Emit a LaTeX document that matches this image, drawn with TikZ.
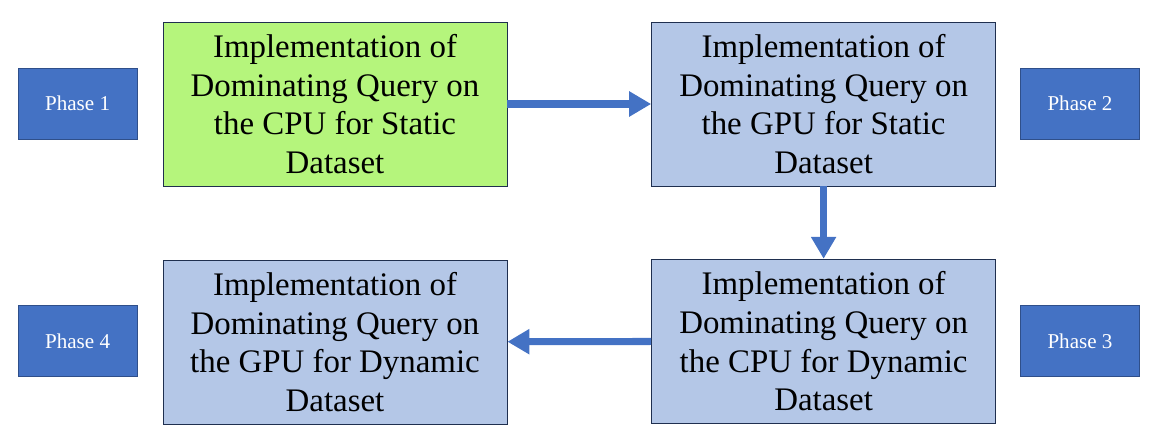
\documentclass[tikz,border=0pt]{standalone}
\usepackage{fontspec}
\setmainfont{Liberation Serif}
\usetikzlibrary{arrows.meta}
\definecolor{phaseblue}{HTML}{4472C4}
\definecolor{phaseline}{HTML}{2F4F8A}
\definecolor{stepgreen}{HTML}{B5F57C}
\definecolor{steplight}{HTML}{B4C7E7}
\definecolor{stepline}{HTML}{1F2F4F}
\tikzset{
  phasebox/.style={shape=rectangle,draw=phaseline,fill=phaseblue,text=white,line width=0.8pt,
    minimum width=2.975cm,minimum height=1.775cm,font=\fontsize{15}{18}\selectfont},
  stepbox/.style={shape=rectangle,draw=stepline,line width=0.6pt,align=center,
    minimum width=8.6cm,minimum height=4.1cm,font=\fontsize{23.4}{27.6}\selectfont},
  flow/.style={draw=phaseblue,fill=phaseblue,line width=5pt,
    -{Triangle[length=0.55cm,width=0.6cm]}}
}
\begin{document}
\begin{tikzpicture}
        \useasboundingbox (0,0) rectangle (29.1,-11.175);
        \node[phasebox] (P1) at (1.94,-2.59) {Phase 1};
        \node[phasebox] (P2) at (27.0,-2.59) {Phase 2};
        \node[phasebox] (P3) at (27.0,-8.53) {Phase 3};
        \node[phasebox] (P4) at (1.94,-8.53) {Phase 4};
        \node[stepbox,fill=stepgreen] (S1) at (8.375,-2.6) {Implementation of\\Dominating Query on\\the CPU for Static\\Dataset};
        \node[stepbox,fill=steplight] (S2) at (20.59,-2.6) {Implementation of\\Dominating Query on\\the GPU for Static\\Dataset};
        \node[stepbox,fill=steplight] (S3) at (20.59,-8.53) {Implementation of\\Dominating Query on\\the CPU for Dynamic\\Dataset};
        \node[stepbox,fill=steplight] (S4) at (8.375,-8.55) {Implementation of\\Dominating Query on\\the GPU for Dynamic\\Dataset};
        \draw[flow] (S1) -- (S2);
        \draw[flow] (S2) -- (S3);
        \draw[flow] (S3) -- (S4);
    \end{tikzpicture}
\end{document}
